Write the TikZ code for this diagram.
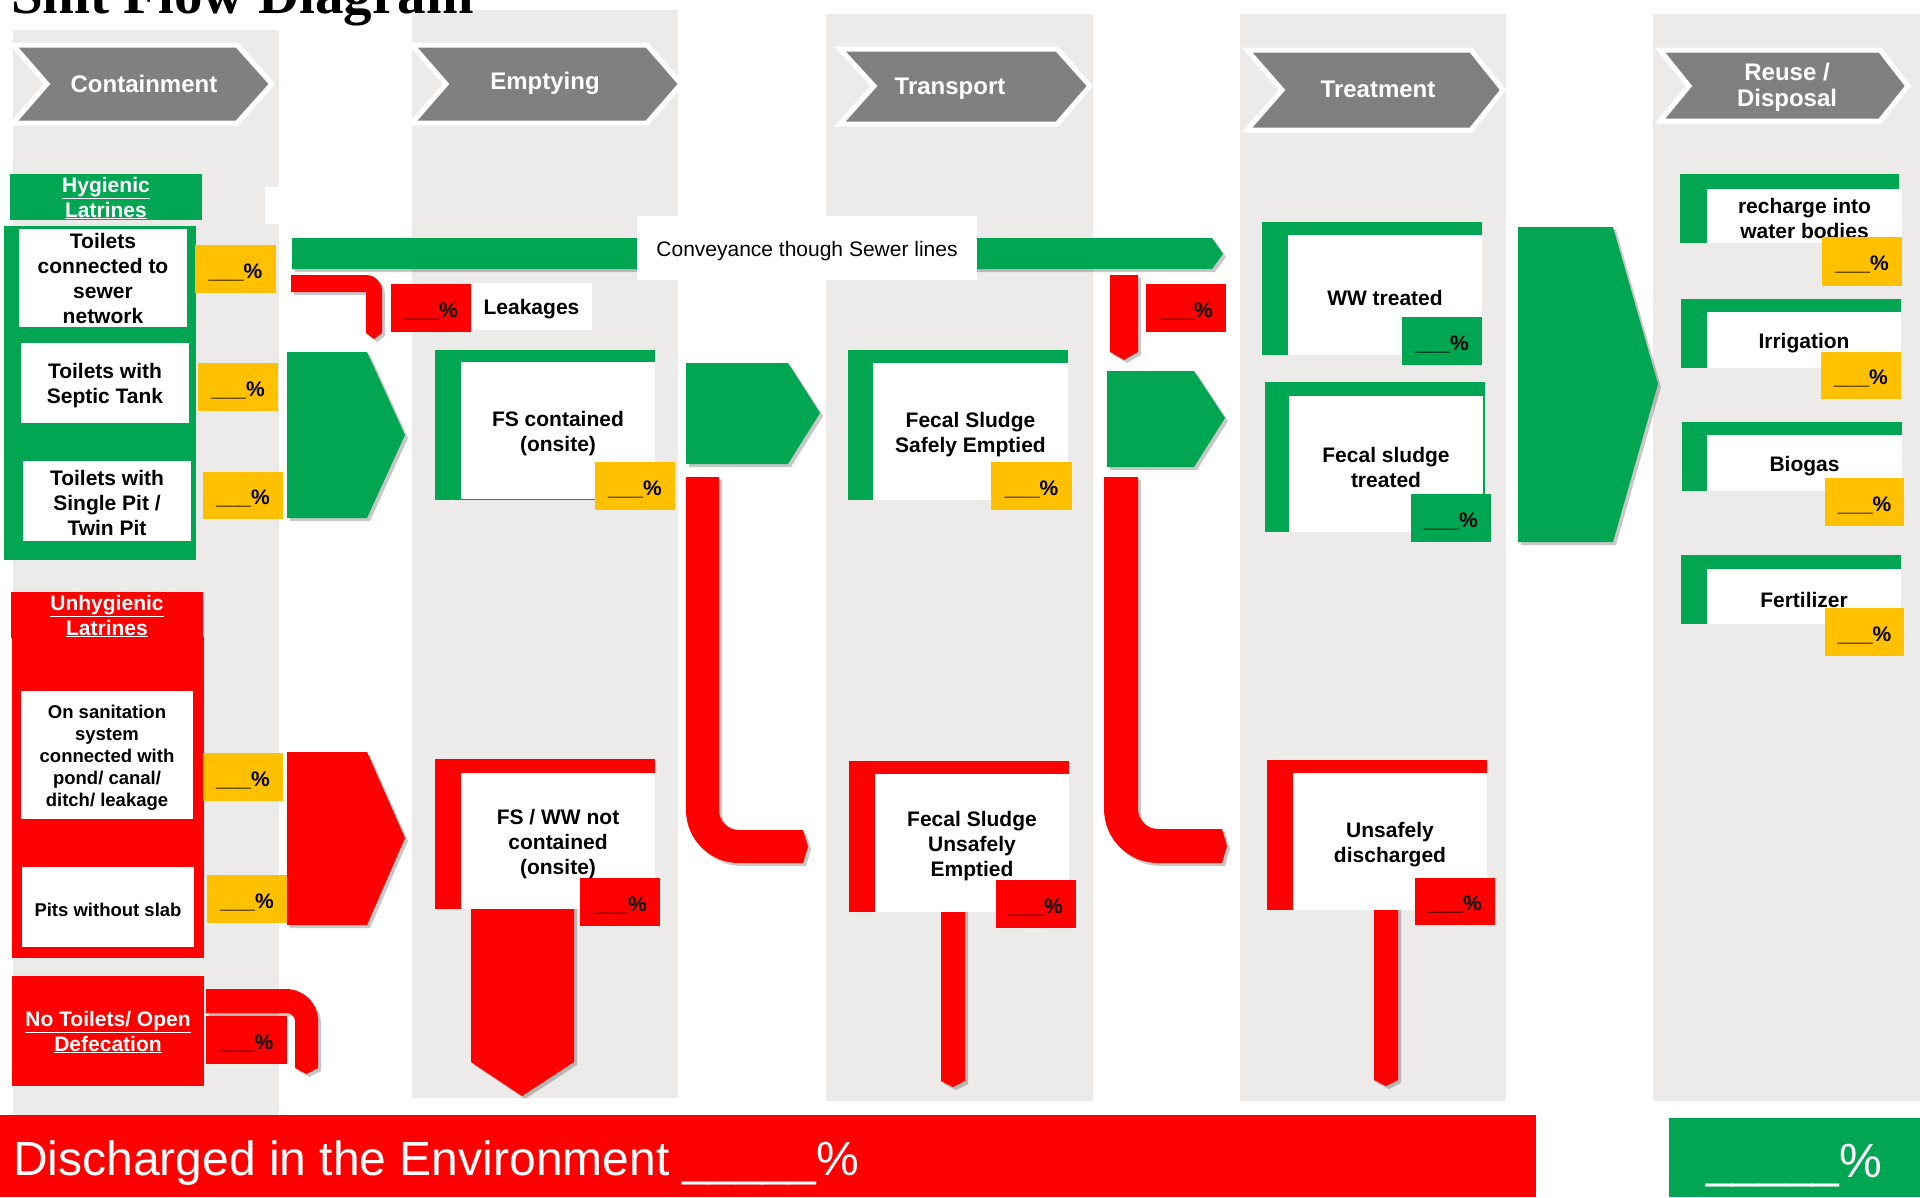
\documentclass[tikz,border=0pt]{standalone}
\usepackage{fontspec}
\setmainfont{Liberation Sans}
\newfontfamily\titlefont{Liberation Serif}
\usetikzlibrary{shadows}
\definecolor{cgreen}{RGB}{0,166,81}
\definecolor{cred}{RGB}{255,0,0}
\definecolor{cyellow}{RGB}{255,192,0}
\definecolor{cgray}{RGB}{128,128,128}
\definecolor{colbg}{RGB}{237,235,233}
\tikzset{
 txt/.style={font=\bfseries\fontsize{21}{25}\selectfont, align=center, inner sep=0pt},
 smalltxt/.style={font=\bfseries\fontsize{18.5}{22}\selectfont, align=center, inner sep=0pt},
 regtxt/.style={font=\fontsize{21}{25}\selectfont, align=center, inner sep=0pt},
 wtxt/.style={txt, text=white},
 chev/.style={fill=cgray, draw=white, line width=5pt, line join=miter},
 chevtxt/.style={font=\bfseries\fontsize{24}{26}\selectfont, text=white, align=center, inner sep=0pt},
 shad/.style={drop shadow={opacity=0.22, shadow xshift=3pt, shadow yshift=-3pt, fill=black}},
}
% box filled from (x1,y1) to (x2,y2) with a named text node at its centre
\newcommand\mybox[8]{%
 \fill[#2] (#3,#4) rectangle (#5,#6);
 \node[#7] (#1) at ({(#3+#5)/2},{(#4+#6)/2+3}) {#8};}
\newcommand\pctlabel{\_\_\_\%}
\begin{document}
\begin{tikzpicture}[x=1pt,y=-1pt]
\useasboundingbox (0,0) rectangle (1920,1197);
\fill[white] (0,0) rectangle (1920,1197);
% column backgrounds
\fill[colbg] (13,30) rectangle (279,1115);
\fill[colbg] (412,10) rectangle (678,1098);
\fill[colbg] (826,14) rectangle (1093,1101);
\fill[colbg] (1240,14) rectangle (1506,1101);
\fill[colbg] (1653,14) rectangle (1920,1101);
\fill[white] (265,187) rectangle (412,224);
% title
\node[anchor=base west, inner sep=0pt, font=\titlefont\bfseries\fontsize{57}{60}\selectfont] (title) at (11,13) {Shit Flow Diagram};
% header chevrons
\draw[chev] (13,45) -- (237,45) -- (272,84) -- (237,123) -- (13,123) -- (47,84) -- cycle;
\node[chevtxt] (hcont) at (144,84) {Containment};
\draw[chev] (412,45) -- (647,45) -- (681,84) -- (647,123) -- (412,123) -- (446,84) -- cycle;
\node[chevtxt] (hempt) at (545,83) {Emptying};
\draw[chev] (840,49) -- (1057,49) -- (1090,86) -- (1057,124) -- (840,124) -- (874,86) -- cycle;
\node[chevtxt] (htrans) at (950,89) {Transport};
\draw[chev] (1247,50) -- (1471,50) -- (1503,90) -- (1471,130) -- (1247,130) -- (1282,90) -- cycle;
\node[chevtxt] (htreat) at (1378,89) {Treatment};
\draw[chev] (1660,50) -- (1880,50) -- (1908,86) -- (1880,121) -- (1660,121) -- (1689,86) -- cycle;
\node[chevtxt] (hreuse) at (1787,87) {Reuse /\\Disposal};
% ---------- containment: hygienic
\mybox{hyg}{cgreen}{10}{174}{202}{220}{wtxt,yshift=2pt}{\underline{Hygienic}\\\underline{Latrines}}
\fill[cgreen] (4,226) rectangle (196,560);
\mybox{c1}{white}{19}{229}{187}{327}{txt,yshift=3pt}{Toilets\\connected to\\sewer\\network}
\mybox{c2}{white}{21}{343}{189}{423}{txt}{Toilets with\\Septic Tank}
\mybox{c3}{white}{23}{461}{191}{541}{txt,yshift=1.5pt}{Toilets with\\Single Pit /\\Twin Pit}
\mybox{p1}{cyellow}{195}{245}{276}{293}{txt}{\pctlabel}
\mybox{p2}{cyellow}{198}{363}{278}{411}{txt}{\pctlabel}
\mybox{p3}{cyellow}{203}{472}{283}{519}{txt}{\pctlabel}
% ---------- containment: unhygienic
\mybox{unhyg}{cred}{11}{592}{203}{638}{wtxt,yshift=2pt}{\underline{Unhygienic}\\\underline{Latrines}}
\fill[cred] (12,637) rectangle (204,958);
\mybox{c4}{white}{21}{691}{193}{819}{smalltxt}{On sanitation\\system\\connected with\\pond/ canal/\\ditch/ leakage}
\mybox{c5}{white}{22}{867}{194}{947}{smalltxt}{Pits without slab}
\mybox{p4}{cyellow}{203}{753}{283}{801}{txt}{\pctlabel}
\mybox{p5}{cyellow}{207}{875}{287}{923}{txt}{\pctlabel}
\mybox{notoil}{cred}{12}{976}{204}{1086}{wtxt,yshift=2pt}{\underline{No Toilets/ Open}\\\underline{Defecation}}
% pipe from open defecation
\fill[cred, shad] (206,989) -- (286,989) .. controls (303.7,989) and (318,1003.3) .. (318,1021) -- (318,1068) -- (306.5,1074) -- (295,1068) -- (295,1021) .. controls (295,1016.6) and (291.4,1013) .. (287,1013) -- (206,1013) -- cycle;
\mybox{p6}{cred}{206}{1016}{287}{1064}{txt}{\pctlabel}
% ---------- sewer conveyance
\fill[cgreen, shad] (292,238) -- (1212,238) -- (1223,254) -- (1212,269) -- (292,269) -- cycle;
\mybox{conv}{white}{637}{216}{977}{280}{regtxt}{Conveyance though Sewer lines}
\fill[cred, shad] (291,275) -- (366,275) .. controls (374.8,275) and (382,282.2) .. (382,291) -- (382,333) -- (374,339) -- (366,333) -- (366,292) -- (291,292) -- cycle;
\mybox{pleak}{cred}{391}{284}{471}{332}{txt}{\pctlabel}
\mybox{leak}{white}{471}{283}{592}{330}{txt}{Leakages}
\fill[cred, shad] (1110,275) -- (1138,275) -- (1138,352) -- (1124,360) -- (1110,352) -- cycle;
\mybox{psew}{cred}{1146}{284}{1226}{332}{txt}{\pctlabel}
% ---------- block arrows
\fill[cgreen, shad] (287,352) -- (367,352) -- (405,435) -- (367,518) -- (287,518) -- cycle;
\fill[cred, shad] (287,752) -- (367,752) -- (405,838) -- (367,925) -- (287,925) -- cycle;
\fill[cgreen, shad] (686,363) -- (788,363) -- (820,413) -- (788,464) -- (686,464) -- cycle;
\fill[cgreen, shad] (1107,371) -- (1194,371) -- (1225,418) -- (1194,467) -- (1107,467) -- cycle;
\fill[cgreen, shad] (1518,227) -- (1613,227) -- (1658,384) -- (1613,542) -- (1518,542) -- cycle;
% ---------- L pipes
\fill[cred, shad] (686,477) -- (719,477) -- (719,810) .. controls (719,821) and (728,830) .. (739,830) -- (803,830) -- (808,846.5) -- (803,863) -- (739,863) .. controls (709.7,863) and (686,839.3) .. (686,810) -- cycle;
\fill[cred, shad] (1104,477) -- (1138,477) -- (1138,809) .. controls (1138,820) and (1147,829) .. (1158,829) -- (1222,829) -- (1227,846) -- (1222,863) -- (1158,863) .. controls (1128.2,863) and (1104,838.8) .. (1104,809) -- cycle;
% ---------- emptying
\fill[cgreen] (435,350) rectangle (655,500);
\mybox{fsc}{white}{461}{362}{655}{499}{txt}{FS contained\\(onsite)}
\mybox{pfsc}{cyellow}{595}{462}{675}{510}{txt}{\pctlabel}
\fill[cred, shad] (471,905) -- (574,905) -- (574,1062) -- (522,1096) -- (471,1062) -- cycle;
\fill[cred] (435,759) rectangle (655,909);
\mybox{fsww}{white}{461}{773}{655}{909}{txt}{FS / WW not\\contained\\(onsite)}
\mybox{pfsww}{cred}{580}{878}{660}{926}{txt}{\pctlabel}
% ---------- transport
\fill[cgreen] (848,350) rectangle (1068,500);
\mybox{fsse}{white}{873}{363}{1068}{500}{txt}{Fecal Sludge\\Safely Emptied}
\mybox{pfsse}{cyellow}{991}{462}{1072}{510}{txt}{\pctlabel}
\fill[cred, shad] (941,908) -- (965,908) -- (965,1081) -- (953,1087) -- (941,1081) -- cycle;
\fill[cred] (849,761) rectangle (1069,912);
\mybox{fsue}{white}{875}{774}{1069}{912}{txt}{Fecal Sludge\\Unsafely\\Emptied}
\mybox{pfsue}{cred}{996}{880}{1076}{928}{txt}{\pctlabel}
% ---------- treatment
\fill[cgreen] (1262,222) rectangle (1482,355);
\mybox{ww}{white}{1288}{235}{1482}{355}{txt}{WW treated}
\mybox{pww}{cgreen}{1402}{317}{1482}{365}{txt}{\pctlabel}
\fill[cgreen] (1265,382) rectangle (1485,532);
\mybox{fst}{white}{1289}{396}{1483}{532}{txt}{Fecal sludge\\treated}
\mybox{pfst}{cgreen}{1411}{494}{1491}{542}{txt}{\pctlabel}
\fill[cred, shad] (1374,906) -- (1398,906) -- (1398,1080) -- (1386,1086) -- (1374,1080) -- cycle;
\fill[cred] (1267,760) rectangle (1487,910);
\mybox{ud}{white}{1293}{773}{1487}{910}{txt}{Unsafely\\discharged}
\mybox{pud}{cred}{1415}{878}{1495}{925}{txt}{\pctlabel}
% ---------- reuse / disposal
\fill[cgreen] (1680,174) rectangle (1899,243);
\mybox{rech}{white}{1707}{189}{1902}{243}{txt,yshift=1pt}{recharge into\\water bodies}
\mybox{prech}{cyellow}{1822}{237}{1902}{286}{txt}{\pctlabel}
\fill[cgreen] (1681,299) rectangle (1901,368);
\mybox{irr}{white}{1707}{312}{1901}{368}{txt}{Irrigation}
\mybox{pirr}{cyellow}{1821}{352}{1901}{399}{txt}{\pctlabel}
\fill[cgreen] (1682,422) rectangle (1902,491);
\mybox{bio}{white}{1707}{435}{1902}{491}{txt}{Biogas}
\mybox{pbio}{cyellow}{1825}{478}{1904}{526}{txt}{\pctlabel}
\fill[cgreen] (1681,555) rectangle (1901,624);
\mybox{fert}{white}{1707}{569}{1901}{624}{txt}{Fertilizer}
\mybox{pfert}{cyellow}{1825}{608}{1904}{656}{txt}{\pctlabel}
% ---------- bottom totals
\fill[cred] (0,1115) rectangle (1536,1197);
\node[anchor=base west, inner sep=0pt, text=white, font=\fontsize{48}{52}\selectfont] (envtxt) at (13,1175) {Discharged in the Environment \_\_\_\_\_\%};
\fill[cgreen] (1669,1118) rectangle (1920,1197);
\node[anchor=base west, inner sep=0pt, text=white, font=\fontsize{48}{52}\selectfont] (safetxt) at (1706,1177) {\_\_\_\_\_\%};
\end{tikzpicture}
\end{document}
